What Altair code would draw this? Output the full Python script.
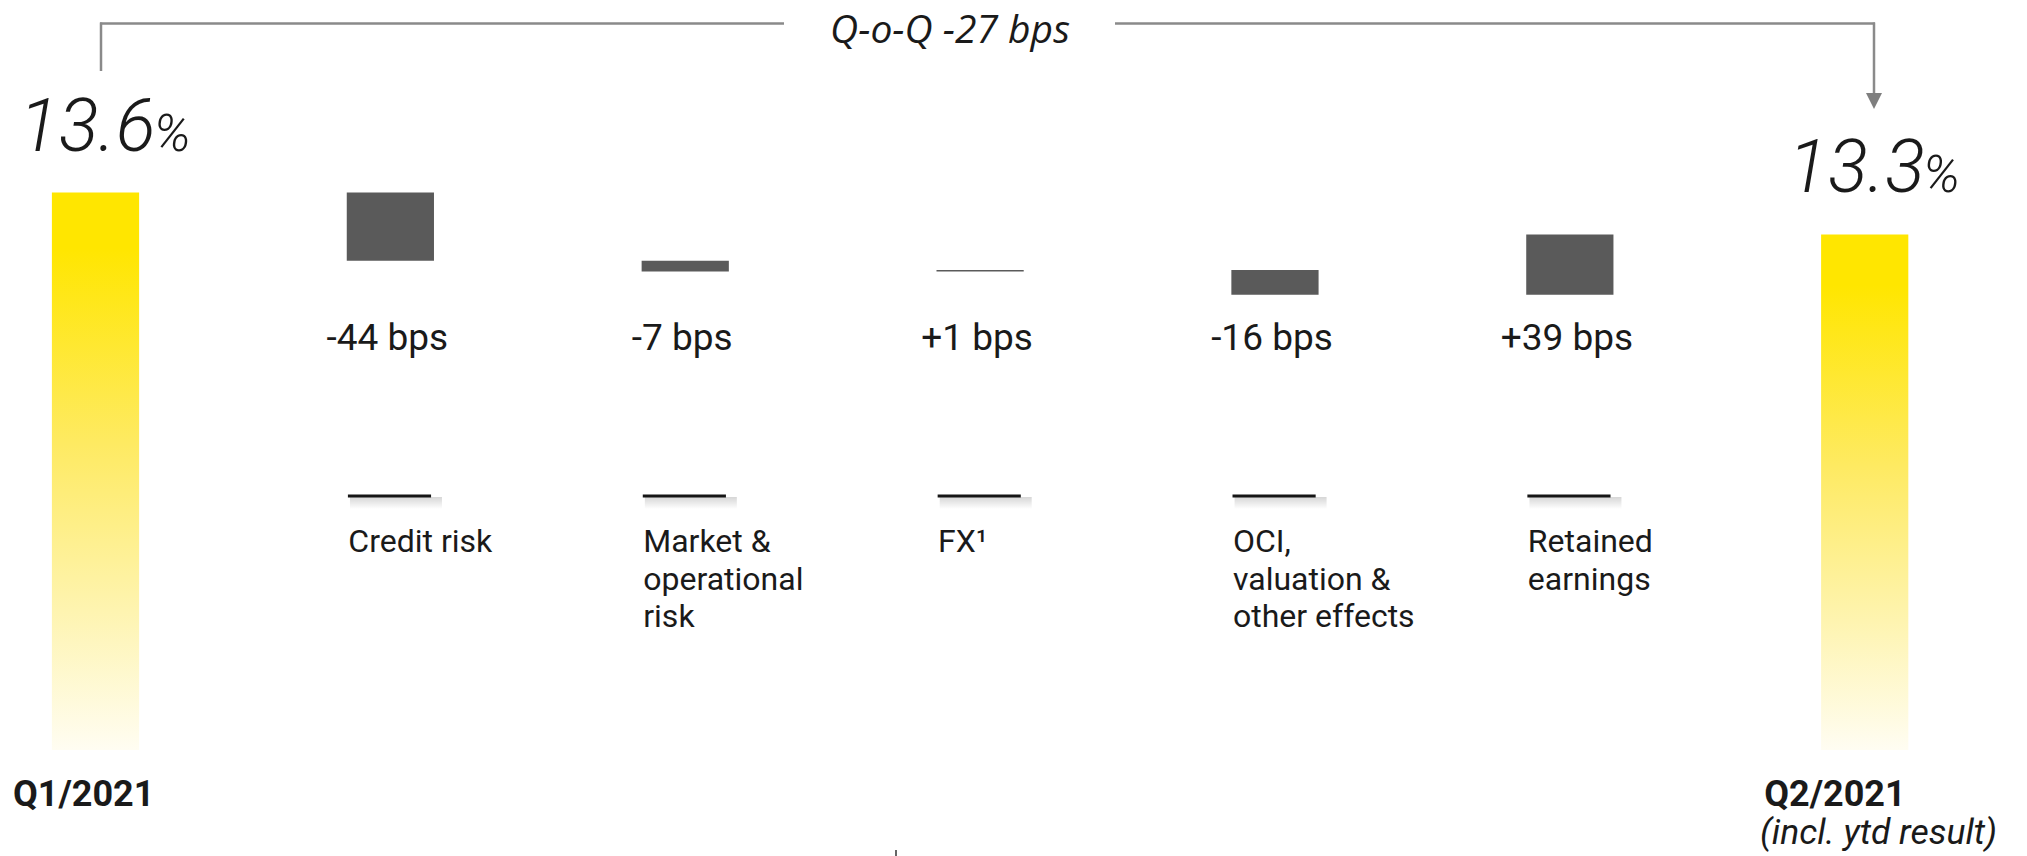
import altair as alt
import pandas as pd

# ---------------- data ----------------
categories = ["Q1/2021", "Credit risk", "Market &\noperational\nrisk", "FX¹",
              "OCI,\nvaluation &\nother effects", "Retained\nearnings", "Q2/2021"]
start_ratio = 13.6          # CET1 ratio Q1/2021, %
deltas_bps = [-44, -7, 1, -16, 39]
delta_labels = ["-44 bps", "-7 bps", "+1 bps", "-16 bps", "+39 bps"]
total_labels = ["13.6", "13.3"]
axis_floor = 10.0           # visual floor of the ratio bars, %
qoq_label = "Q-o-Q -27 bps"
q2_note = "(incl. ytd result)"

# ---------------- tables built from the data ----------------
end_ratio = start_ratio + sum(deltas_bps) / 100.0
steps = []
running = start_ratio
for i, (d, lab) in enumerate(zip(deltas_bps, delta_labels), start=1):
    steps.append({"idx": i, "cat": categories[i], "start": running,
                  "end": running + d / 100.0, "label": lab})
    running += d / 100.0
df_steps = pd.DataFrame(steps)
df_totals = pd.DataFrame({
    "idx": [0, 6],
    "cat": [categories[0], categories[6]],
    "value": [start_ratio, end_ratio],
    "floor": [axis_floor, axis_floor],
    "label": total_labels,
})

W, H = 2027, 856
XS = alt.Scale(domain=[-0.3239, 6.5504], nice=False, zero=False)
YS = alt.Scale(domain=[9.3145, 14.844], nice=False, zero=False)
FONT = "Roboto"
INK = "#1a1a1a"
GREY = "#5a5a5a"
BRACKET = "#8a8a8a"
HALF = 0.1479

yellow = alt.Gradient(
    gradient="linear", x1=0, x2=0, y1=0, y2=1,
    stops=[alt.GradientStop(color="#FFE600", offset=0),
           alt.GradientStop(color="#FFE600", offset=0.1),
           alt.GradientStop(color="#FEEA62", offset=0.45),
           alt.GradientStop(color="#FEF4B0", offset=0.75),
           alt.GradientStop(color="#FFFDF2", offset=1)])

shadow = alt.Gradient(
    gradient="linear", x1=0, x2=0, y1=0, y2=1,
    stops=[alt.GradientStop(color="rgba(0,0,0,0.16)", offset=0),
           alt.GradientStop(color="rgba(0,0,0,0.0)", offset=1)])

one = alt.Data(values=[{}])

# total bars (gradient yellow)
totals = alt.Chart(df_totals).transform_calculate(
    xl=f"datum.idx - {HALF}", xr=f"datum.idx + {HALF}"
).mark_rect(color=yellow).encode(
    x=alt.X("xl:Q", scale=XS, axis=None), x2="xr:Q",
    y=alt.Y("value:Q", scale=YS, axis=None), y2="floor:Q",
)

# step bars (dark grey)
bars = alt.Chart(df_steps).transform_calculate(
    xl=f"datum.idx - {HALF}", xr=f"datum.idx + {HALF}"
).mark_rect(color=GREY).encode(
    x=alt.X("xl:Q", scale=XS, axis=None), x2="xr:Q",
    y=alt.Y("start:Q", scale=YS, axis=None), y2="end:Q",
)

# bps labels
bps_text = alt.Chart(df_steps).mark_text(
    font=FONT, fontSize=37, color=INK, align="center", baseline="alphabetic", dx=-3
).encode(
    x=alt.X("idx:Q", scale=XS, axis=None), y=alt.value(350), text="label:N"
)

# short separator lines with soft shadow
line_shadow = alt.Chart(df_steps).transform_calculate(
    xl="datum.idx - 0.137", xr="datum.idx + 0.175"
).mark_rect(color=shadow).encode(
    x=alt.X("xl:Q", scale=XS, axis=None), x2="xr:Q",
    y=alt.value(497), y2=alt.value(509),
)
sep_lines = alt.Chart(df_steps).transform_calculate(
    xl="datum.idx - 0.144", xr="datum.idx + 0.138"
).mark_rect(color="#151515").encode(
    x=alt.X("xl:Q", scale=XS, axis=None), x2="xr:Q",
    y=alt.value(494.5), y2=alt.value(497.5),
)

# category labels
cat_text = alt.Chart(df_steps).mark_text(
    font=FONT, fontSize=32, color=INK, align="left", baseline="alphabetic",
    lineBreak="\n", lineHeight=37.5, dx=-42
).encode(
    x=alt.X("idx:Q", scale=XS, axis=None), y=alt.value(552), text="cat:N"
)

# big ratio labels
big_num = alt.Chart(df_totals).mark_text(
    font=FONT, fontSize=74, fontWeight=300, fontStyle="italic", color=INK,
    align="right", baseline="alphabetic", dx=60, dy=-42
).encode(
    x=alt.X("idx:Q", scale=XS, axis=None),
    y=alt.Y("value:Q", scale=YS, axis=None), text="label:N"
)
big_pct = alt.Chart(df_totals).transform_calculate(pct="'%'").mark_text(
    font=FONT, fontSize=52, fontWeight=300, fontStyle="italic", color=INK,
    align="left", baseline="alphabetic", dx=58, dy=-42
).encode(
    x=alt.X("idx:Q", scale=XS, axis=None),
    y=alt.Y("value:Q", scale=YS, axis=None), text="pct:N"
)

# period labels at bottom
period_text = alt.Chart(df_totals).transform_calculate(
    xlab="datum.idx == 0 ? datum.idx - 0.280 : datum.idx - 0.341"
).mark_text(
    font=FONT, fontSize=36, fontWeight="bold", color=INK,
    align="left", baseline="alphabetic"
).encode(
    x=alt.X("xlab:Q", scale=XS, axis=None), y=alt.value(806), text="cat:N"
)
note_text = alt.Chart(one).mark_text(
    font=FONT, fontSize=35.5, fontStyle="italic", color=INK,
    align="left", baseline="alphabetic", text=q2_note
).encode(x=alt.value(1760), y=alt.value(844))

# Q-o-Q bracket with arrow
def hrule(x1, x2, y, w=2.5):
    return alt.Chart(one).mark_rule(color=BRACKET, strokeWidth=w).encode(
        x=alt.value(x1), x2=alt.value(x2), y=alt.value(y))

def vrule(x, y1, y2, w=2.5):
    return alt.Chart(one).mark_rule(color=BRACKET, strokeWidth=w).encode(
        x=alt.value(x), y=alt.value(y1), y2=alt.value(y2))

bracket = [
    hrule(100, 784, 23.5), vrule(101, 22.5, 71),
    hrule(1115, 1875, 23.5), vrule(1874, 22.5, 95),
]
arrow = alt.Chart(one).mark_point(
    shape="M-1,-1L1,-1L0,1Z", size=256, filled=True, color="#7f7f7f", opacity=1
).encode(x=alt.value(1874), y=alt.value(101))

qoq_text = alt.Chart(one).mark_text(
    font="Open Sans", fontSize=39, fontStyle="italic", color=INK,
    align="center", baseline="alphabetic", text=qoq_label
).encode(x=alt.value(950), y=alt.value(43))

# small stray tick at the bottom of the slide
tick = alt.Chart(one).mark_rule(color="#333333", strokeWidth=1.5).encode(
    x=alt.value(896), y=alt.value(850), y2=alt.value(856))

chart = alt.layer(
    totals, bars, line_shadow, sep_lines, bps_text, cat_text,
    big_num, big_pct, period_text, note_text, *bracket, arrow, qoq_text, tick
).properties(
    width=W, height=H, autosize=alt.AutoSizeParams(type="none"), padding=0,
    background="white"
).configure_view(stroke=None)

chart.save("out.html", embed_options={"renderer": "svg", "actions": False})
